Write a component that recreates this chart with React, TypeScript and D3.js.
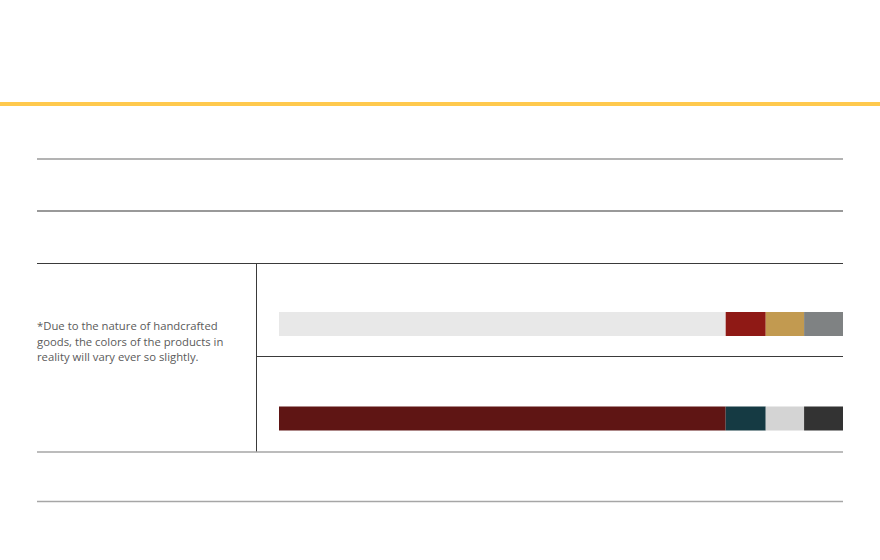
import React from "react";
import * as d3 from "d3";

const rows = ["row1", "row2"];
const segmentKeys = ["s1", "s2", "s3", "s4"];
const row1Values = [79.2, 7.1, 6.8, 6.9];
const row2Values = [79.2, 7.1, 6.8, 6.9];
const row1Colors = ["#e8e8e8", "#8f1915", "#c29a50", "#7f8283"];
const row2Colors = ["#5f1514", "#153a43", "#d4d4d4", "#333333"];
const noteLines = [
  "*Due to the nature of handcrafted",
  "goods, the colors of the products in",
  "reality will vary ever so slightly.",
];

const W = 880;
const H = 560;

export default function App() {
  const x = d3.scaleLinear().domain([0, 100]).range([279, 843]);
  const y = d3.scaleBand<string>().domain(rows).range([263, 452]).paddingInner(0);
  const series = [row1Values, row2Values];
  const colors = [row1Colors, row2Colors];

  const bars = rows.map((r, i) => {
    const stack = d3.cumsum(series[i]);
    const by = (y(r) as number) + 49;
    return segmentKeys.map((k, j) => {
      const x0 = x(j === 0 ? 0 : stack[j - 1]);
      const x1 = x(stack[j]);
      return (
        <rect
          key={r + k}
          x={x0}
          y={by}
          width={x1 - x0}
          height={24}
          fill={colors[i][j]}
        />
      );
    });
  });

  return (
    <div style={{ position: "absolute", left: 0, top: 0 }}>
      <svg width={W} height={H} style={{ display: "block", background: "#fff" }}>
        <rect x={0} y={102} width={W} height={4} fill="#ffc94d" />
        <line x1={37} x2={843} y1={159} y2={159} stroke="#9a9a9a" strokeWidth={1.3} />
        <line x1={37} x2={843} y1={211} y2={211} stroke="#777" strokeWidth={1.3} />
        <line x1={37} x2={843} y1={263.5} y2={263.5} stroke="#3a3a3a" strokeWidth={1} />
        <line x1={256.5} x2={256.5} y1={263} y2={452} stroke="#3a3a3a" strokeWidth={1} />
        <line x1={256} x2={843} y1={356.5} y2={356.5} stroke="#3a3a3a" strokeWidth={1} />
        <line x1={37} x2={843} y1={452} y2={452} stroke="#a6a6a6" strokeWidth={1.5} />
        <line x1={37} x2={843} y1={501.5} y2={501.5} stroke="#a6a6a6" strokeWidth={1.5} />
        {bars}
        <text
          x={37}
          y={330}
          fill="#5a5a5a"
          fontFamily="'Open Sans', 'Noto Sans', sans-serif"
          fontSize={11.3}
        >
          {noteLines.map((t, i) => (
            <tspan key={i} x={37} dy={i === 0 ? 0 : 15.5}>
              {t}
            </tspan>
          ))}
        </text>
      </svg>
    </div>
  );
}
